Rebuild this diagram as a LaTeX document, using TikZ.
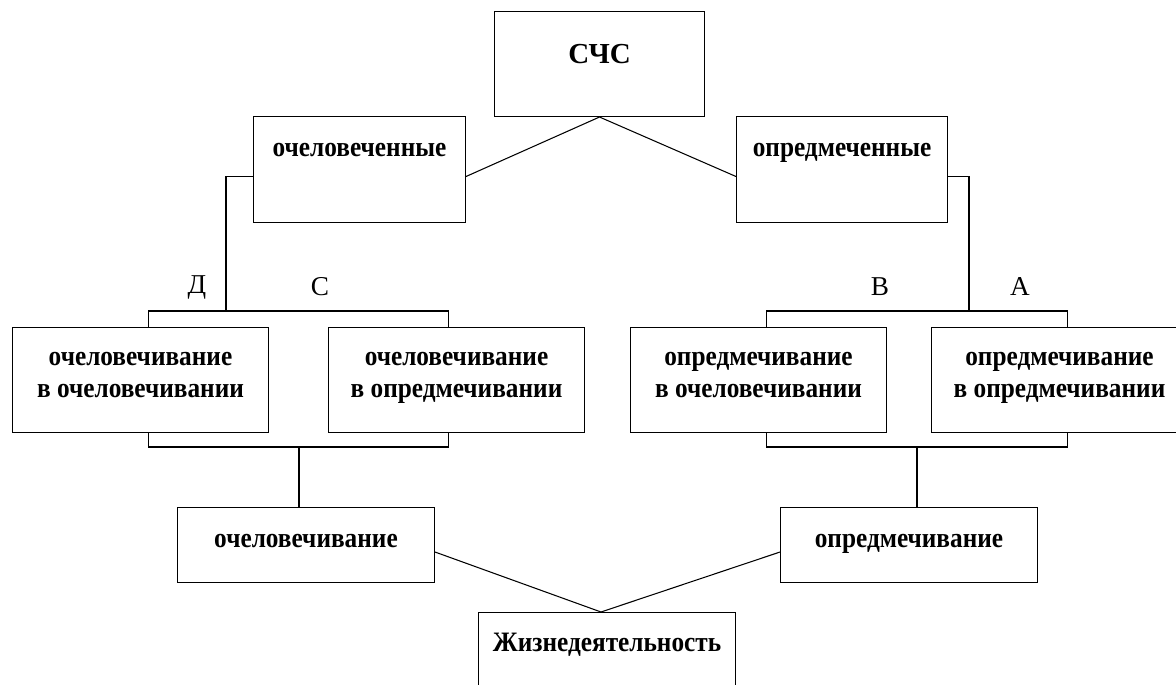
\documentclass[tikz,border=0pt]{standalone}
\usepackage{fontspec}
\setmainfont{Liberation Serif}
\newfontfamily\boxfont{Liberation Serif}[FakeStretch=0.9]
\usetikzlibrary{positioning}
\tikzset{
  box/.style={draw, anchor=north west, inner xsep=0pt, inner ysep=0pt, align=center,
    font=\boxfont\bfseries\fontsize{16}{18.1}\selectfont},
  pair/.style={box, minimum width=5.12cm, text height=1.4cm, text depth=0.7cm},
  low/.style={box, minimum width=5.14cm, text height=0.8cm, text depth=0.7cm},
  top/.style={box, minimum width=4.24cm, text height=0.8cm, text depth=1.32cm},
  letter/.style={inner sep=0pt, font=\fontsize{15.5}{18}\selectfont}
}

\begin{document}
\begin{tikzpicture}[x=0.02cm, y=-0.02cm, line width=0.6pt]
\useasboundingbox (0,0) rectangle (1176,685);
\node[box, minimum width=4.2cm, text height=1.04cm, text depth=1.06cm,
  font=\bfseries\fontsize{16.5}{20}\selectfont] (sch) at (494,11) {СЧС};
\node[top] (och) at (253,116) {очеловеченные};
\node[top, minimum width=4.22cm] (opr) at (736,116) {опредмеченные};
\node[pair] (oo) at (12,327) {очеловечивание\\в очеловечивании};
\node[pair] (oop) at (328,327) {очеловечивание\\в опредмечивании};
\node[pair] (opo) at (630,327) {опредмечивание\\в очеловечивании};
\node[pair] (opop) at (931,327) {опредмечивание\\в опредмечивании};
\node[low] (ochv) at (177,507) {очеловечивание};
\node[low] (oprv) at (780,507) {опредмечивание};
\node[box, minimum width=5.14cm, text height=0.78cm, text depth=1.3cm] (zhizn) at (478,612) {Жизнедеятельность};
\node[letter] (lD) at (197,287) {Д};
\node[letter] (lC) at (320,287) {С};
\node[letter] (lB) at (880,287) {В};
\node[letter] (lA) at (1020,287) {А};
\coordinate (jl) at (226,311);
\coordinate (jr) at (969,311);
\coordinate (jlb) at (299,447);
\coordinate (jrb) at (917,447);
\draw (sch.south) -- ([yshift=-0.14cm]och.east);
\draw (sch.south) -- ([yshift=-0.14cm]opr.west);
\draw ([yshift=-0.14cm]och.west) -| (jl);
\draw ([yshift=-0.14cm]opr.east) -| (jr);
\draw ([xshift=0.16cm]oo.north) |- (jl) -| ([xshift=-0.16cm]oop.north);
\draw ([xshift=0.16cm]opo.north) |- (jr) -| ([xshift=0.16cm]opop.north);
\draw ([xshift=0.16cm]oo.south) |- (jlb) -| ([xshift=-0.16cm]oop.south);
\draw ([xshift=0.16cm]opo.south) |- (jrb) -| ([xshift=0.16cm]opop.south);
\draw (jlb) -- (jlb |- ochv.north);
\draw (jrb) -- (jrb |- oprv.north);
\draw ([yshift=-0.14cm]ochv.east) -- ([xshift=-0.12cm]zhizn.north);
\draw ([yshift=-0.14cm]oprv.west) -- ([xshift=-0.12cm]zhizn.north);
\end{tikzpicture}
\end{document}
